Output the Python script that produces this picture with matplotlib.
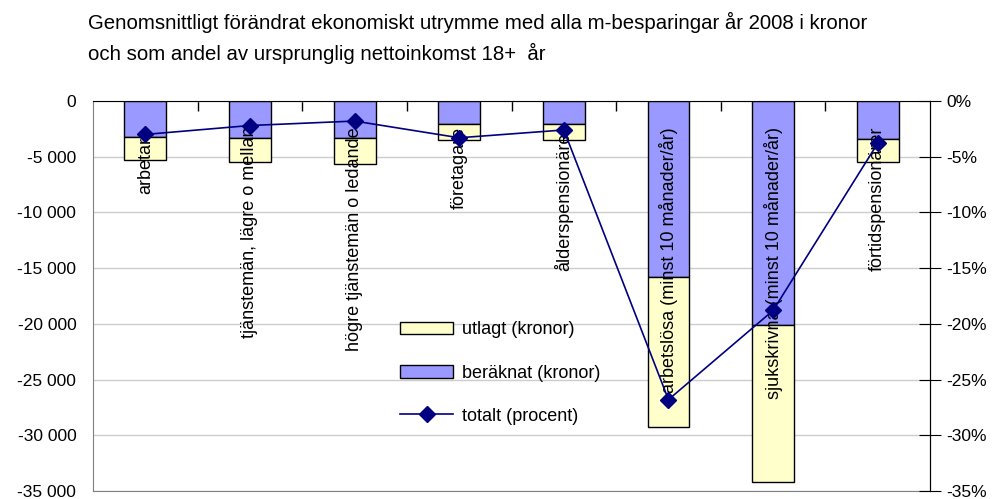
import numpy as np
import matplotlib
matplotlib.use('Agg')
import matplotlib.pyplot as plt
from matplotlib.patches import Patch
from matplotlib.lines import Line2D
from matplotlib.ticker import FuncFormatter

plt.rcParams['font.family'] = ['Liberation Sans', 'DejaVu Sans']

# ==================== Data ====================
categories = ['arbetare', 'tjänstemän, lägre o mellan', 'högre tjänstemän o ledande',
              'företagare', 'ålderspensionärer', 'arbetslösa (minst 10 månader/år)',
              'sjukskrivna (minst 10 månader/år)', 'förtidspensionärer']
beraknat = [-3200, -3330, -3330, -2050, -2080, -15830, -20090, -3390]
utlagt = [-2130, -2140, -2360, -1490, -1460, -13400, -14130, -2080]
totalt_pct = [-3.0, -2.2, -1.8, -3.3, -2.6, -26.8, -18.8, -3.8]

title1 = 'Genomsnittligt förändrat ekonomiskt utrymme med alla m-besparingar år 2008 i kronor'
title2 = 'och som andel av ursprunglig nettoinkomst 18+  år'

# ==================== Plot ====================
fig = plt.figure(figsize=(9.97, 4.99), dpi=100)
ax = fig.add_axes([0.0933, 0.016, 0.8395, 0.7816])
x = np.arange(len(categories))

ax.bar(x, beraknat, width=0.4, color='#9999ff', edgecolor='black', linewidth=1, zorder=2)
ax.bar(x, utlagt, width=0.4, bottom=beraknat, color='#ffffcc', edgecolor='black', linewidth=1, zorder=2)

ax.set_xlim(-0.5, len(categories) - 0.5)
ax.set_ylim(-35000, 0)
ax.set_yticks(np.arange(-35000, 1, 5000))
ax.yaxis.set_major_formatter(FuncFormatter(lambda v, p: f'{int(v):,}'.replace(',', ' ')))
ax.tick_params(axis='y', length=0, labelsize=12.5, pad=12)
ax.grid(axis='y', color='#cccccc', linewidth=1, zorder=0)
ax.set_axisbelow(True)

ax.xaxis.set_ticks_position('top')
ax.set_xticks(x[:-1] + 0.5)
ax.set_xticklabels([])
ax.tick_params(axis='x', direction='in', length=7, width=1, color='black')

for s in ['left', 'bottom']:
    ax.spines[s].set_color('#808080')
ax.spines['top'].set_color('black')

for i, lab in enumerate(categories):
    ax.annotate(lab, (i, 0), xytext=(0, -26), textcoords='offset pixels',
                rotation=90, ha='center', va='top', fontsize=13, zorder=5)

ax2 = ax.twinx()
ax2.plot(x, totalt_pct, color='#000080', linewidth=1.2, marker='D', markersize=8)
ax2.set_ylim(-35, 0)
ax2.set_yticks(np.arange(-35, 1, 5))
ax2.yaxis.set_major_formatter(FuncFormatter(lambda v, p: f'{int(v)}%'))
ax2.tick_params(axis='y', direction='inout', length=16, labelsize=12.5, pad=4)
ax2.spines['right'].set_color('black')
for s in ['left', 'bottom', 'top']:
    ax2.spines[s].set_visible(False)

handles = [Patch(facecolor='#ffffcc', edgecolor='black'),
           Patch(facecolor='#9999ff', edgecolor='black'),
           Line2D([], [], color='#000080', linewidth=1.2, marker='D', markersize=8)]
labels = ['utlagt (kronor)', 'beräknat (kronor)', 'totalt (procent)']
ax2.legend(handles, labels, loc='upper left', bbox_to_anchor=(0.367, 0.435),
           frameon=False, fontsize=13, labelspacing=1.45, handlelength=2.95,
           handletextpad=0.45, handleheight=0.7, borderpad=0, borderaxespad=0)

fig.text(0.088, 1 - 22 / 499, title1, ha='left', va='center', fontsize=14.7)
fig.text(0.088, 1 - 53 / 499, title2, ha='left', va='center', fontsize=14.7)

plt.savefig('out.png', dpi=100)
